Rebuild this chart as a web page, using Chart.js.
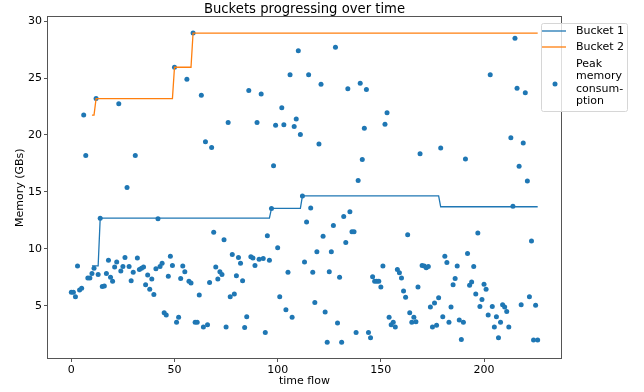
<!DOCTYPE html>
<html>
<head>
<meta charset="utf-8">
<script src="https://cdn.jsdelivr.net/npm/chart.js@4.4.0/dist/chart.umd.min.js"></script>
<style>
  html, body { margin: 0; padding: 0; background: #fff; }
</style>
</head>
<body>
<canvas id="memChart" width="644" height="392"></canvas>
<script>
// tick labels
var timeTicks = [0, 50, 100, 150, 200];
var memoryTicks = [5, 10, 15, 20, 25, 30];

// peak memory per time step (x = index 0..226)
var peakMemory = [
  6.2, 6.2, 5.8, 8.5, 6.4, 6.55, 21.75, 18.2, 7.45, 7.45,
  7.85, 8.3, 23.2, 7.75, 12.7, 6.7, 6.75, 7.85, 9.0, 7.5,
  7.15, 8.4, 8.85, 22.75, 8.05, 8.45, 9.25, 15.4, 8.45, 7.2,
  7.95, 18.2, 9.2, 8.2, 8.3, 8.4, 6.85, 7.7, 6.45, 7.35,
  6.0, 8.25, 12.65, 8.45, 8.75, 4.4, 4.2, 7.6, 9.35, 8.55,
  25.95, 3.55, 4.0, 7.4, 8.5, 8.0, 24.9, 7.15, 7.0, 28.95,
  3.55, 3.55, 5.95, 23.5, 3.15, 19.4, 3.35, 7.05, 18.9, 11.45,
  8.4, 7.35, 8.0, 7.75, 10.8, 3.15, 21.1, 5.8, 9.5, 6.05,
  7.65, 9.25, 8.75, 7.2, 3.1, 4.05, 23.9, 9.3, 9.2, 8.55,
  21.1, 9.1, 23.6, 9.15, 2.65, 11.15, 9.0, 13.55, 17.3, 20.85,
  10.1, 5.8, 22.4, 20.9, 4.65, 7.95, 25.3, 4.0, 20.75, 21.4,
  27.4, 20.05, 14.65, 8.85, 12.35, 25.3, 13.6, 7.95, 5.3, 9.75,
  19.2, 24.45, 11.1, 4.45, 1.8, 8.0, 9.75, 12.05, 27.7, 3.5,
  7.5, 1.8, 12.85, 10.55, 24.05, 13.25, 11.5, 11.5, 2.65, 16.0,
  24.55, 17.85, 20.6, 24.0, 2.65, 2.2, 7.55, 7.15, 7.15, 7.15,
  6.65, 8.5, 20.95, 21.95, 4.0, 3.35, 3.55, 3.15, 8.2, 7.9,
  7.45, 6.3, 5.75, 11.25, 4.4, 3.55, 4.0, 3.6, 6.65, 18.35,
  8.55, 8.5, 8.35, 8.45, 4.9, 3.15, 5.25, 3.3, 5.7, 18.85,
  4.05, 9.35, 8.8, 3.55, 4.9, 6.85, 7.4, 8.5, 3.75, 2.05,
  3.55, 17.9, 9.6, 6.8, 7.1, 8.45, 6.05, 11.4, 4.95, 5.55,
  6.9, 6.45, 4.2, 25.3, 4.95, 3.15, 4.05, 2.2, 3.55, 5.1,
  4.9, 4.5, 3.15, 19.75, 13.75, 28.5, 24.1, 17.25, 5.1, 19.3,
  23.7, 15.95, 5.8, 10.7, 2.0, 5.05, 2.0
];

// bucket step lines (time, memory)
var bucket1Time = [10, 13, 14, 96, 97, 111, 112, 178, 179, 226];
var bucket1Memory = [8.5, 8.5, 12.7, 12.7, 13.55, 13.55, 14.65, 14.65, 13.7, 13.7];
var bucket2Time = [10, 11, 12, 49, 50, 58, 59, 226];
var bucket2Memory = [21.75, 21.75, 23.2, 23.2, 25.95, 25.95, 28.95, 28.95];

var FONT = "'DejaVu Sans', sans-serif";
var BLUE = '#1f77b4';
var ORANGE = '#ff7f0e';

function toPoints(xs, ys) {
  return xs.map(function (x, i) { return { x: x, y: ys[i] }; });
}

// box around the plot, like matplotlib spines
var framePlugin = {
  id: 'frame',
  afterDatasetsDraw: function (chart) {
    var a = chart.chartArea, ctx = chart.ctx;
    var l = Math.round(a.left) - 0.5, t = Math.round(a.top) - 0.5;
    var r = Math.round(a.right) + 0.5, b = Math.round(a.bottom) + 0.5;
    ctx.save();
    ctx.strokeStyle = '#555';
    ctx.lineWidth = 1;
    ctx.strokeRect(l, t, r - l, b - t);
    ctx.restore();
  }
};

// matplotlib style legend, partly outside the axes
var legendPlugin = {
  id: 'mplLegend',
  afterDraw: function (chart) {
    var ctx = chart.ctx;
    var ds = chart.data.datasets;
    ctx.save();
    ctx.fillStyle = 'rgba(255,255,255,0.8)';
    ctx.strokeStyle = '#d6d6d6';
    ctx.lineWidth = 1;
    ctx.beginPath();
    ctx.roundRect(541.5, 23.5, 86, 88, 2);
    ctx.fill();
    ctx.stroke();

    ctx.font = '11px ' + FONT;
    ctx.fillStyle = '#000';
    ctx.textBaseline = 'middle';
    ctx.textAlign = 'left';

    var rows = [31, 47];
    for (var i = 0; i < 2; i++) {
      ctx.strokeStyle = ds[i].borderColor;
      ctx.lineWidth = 1.3;
      ctx.beginPath();
      ctx.moveTo(542, rows[i]);
      ctx.lineTo(566, rows[i]);
      ctx.stroke();
      ctx.fillText(ds[i].label, 576, rows[i]);
    }
    var peakLines = ['Peak', 'memory', 'consum-', 'ption'];
    peakLines.forEach(function (txt, k) {
      ctx.fillText(txt, 576, 64 + k * 12.4);
    });
    ctx.fillStyle = ds[2].backgroundColor;
    ctx.beginPath();
    ctx.arc(555, 84, 2.5, 0, Math.PI * 2);
    ctx.fill();
    ctx.restore();
  }
};

var ctx = document.getElementById('memChart');
new Chart(ctx, {
  type: 'scatter',
  data: {
    datasets: [
      {
        label: 'Bucket 1',
        data: toPoints(bucket1Time, bucket1Memory),
        showLine: true,
        borderColor: BLUE,
        borderWidth: 1.3,
        pointRadius: 0,
        fill: false
      },
      {
        label: 'Bucket 2',
        data: toPoints(bucket2Time, bucket2Memory),
        showLine: true,
        borderColor: ORANGE,
        borderWidth: 1.3,
        pointRadius: 0,
        fill: false
      },
      {
        label: 'Peak memory consumption',
        data: peakMemory.map(function (m, i) { return { x: i, y: m }; }),
        backgroundColor: BLUE,
        borderWidth: 0,
        pointRadius: 2.5
      }
    ]
  },
  options: {
    responsive: false,
    animation: false,
    layout: { padding: { left: 0, right: 83, top: 0, bottom: 0 } },
    plugins: {
      legend: { display: false },
      tooltip: { enabled: false },
      title: {
        display: true,
        fullSize: false,
        text: 'Buckets progressing over time',
        color: '#000',
        font: { family: FONT, size: 13.2, weight: 'normal', lineHeight: 1.2 },
        padding: { top: 1.5, bottom: 0 }
      }
    },
    scales: {
      x: {
        type: 'linear',
        min: -11.3,
        max: 237.3,
        afterFit: function (s) { s.height = 34; },
        afterBuildTicks: function (s) { s.ticks = timeTicks.map(function (v) { return { value: v }; }); },
        grid: { drawOnChartArea: false, tickLength: 4, color: '#555' },
        border: { display: false },
        ticks: { color: '#000', font: { family: FONT, size: 11 }, padding: 2, maxRotation: 0 },
        title: {
          display: true, text: 'time flow', color: '#000',
          font: { family: FONT, size: 11 }, padding: { top: 0, bottom: 4 }
        }
      },
      y: {
        min: 0.42,
        max: 30.33,
        afterFit: function (s) { s.width = 48; },
        afterBuildTicks: function (s) { s.ticks = memoryTicks.map(function (v) { return { value: v }; }); },
        grid: { drawOnChartArea: false, tickLength: 4, color: '#555' },
        border: { display: false },
        ticks: { color: '#000', font: { family: FONT, size: 11 }, padding: 2 },
        title: {
          display: true, text: 'Memory (GBs)', color: '#000',
          font: { family: FONT, size: 11 }, padding: { top: 14, bottom: 0 }
        }
      }
    }
  },
  plugins: [framePlugin, legendPlugin]
});
</script>
</body>
</html>
